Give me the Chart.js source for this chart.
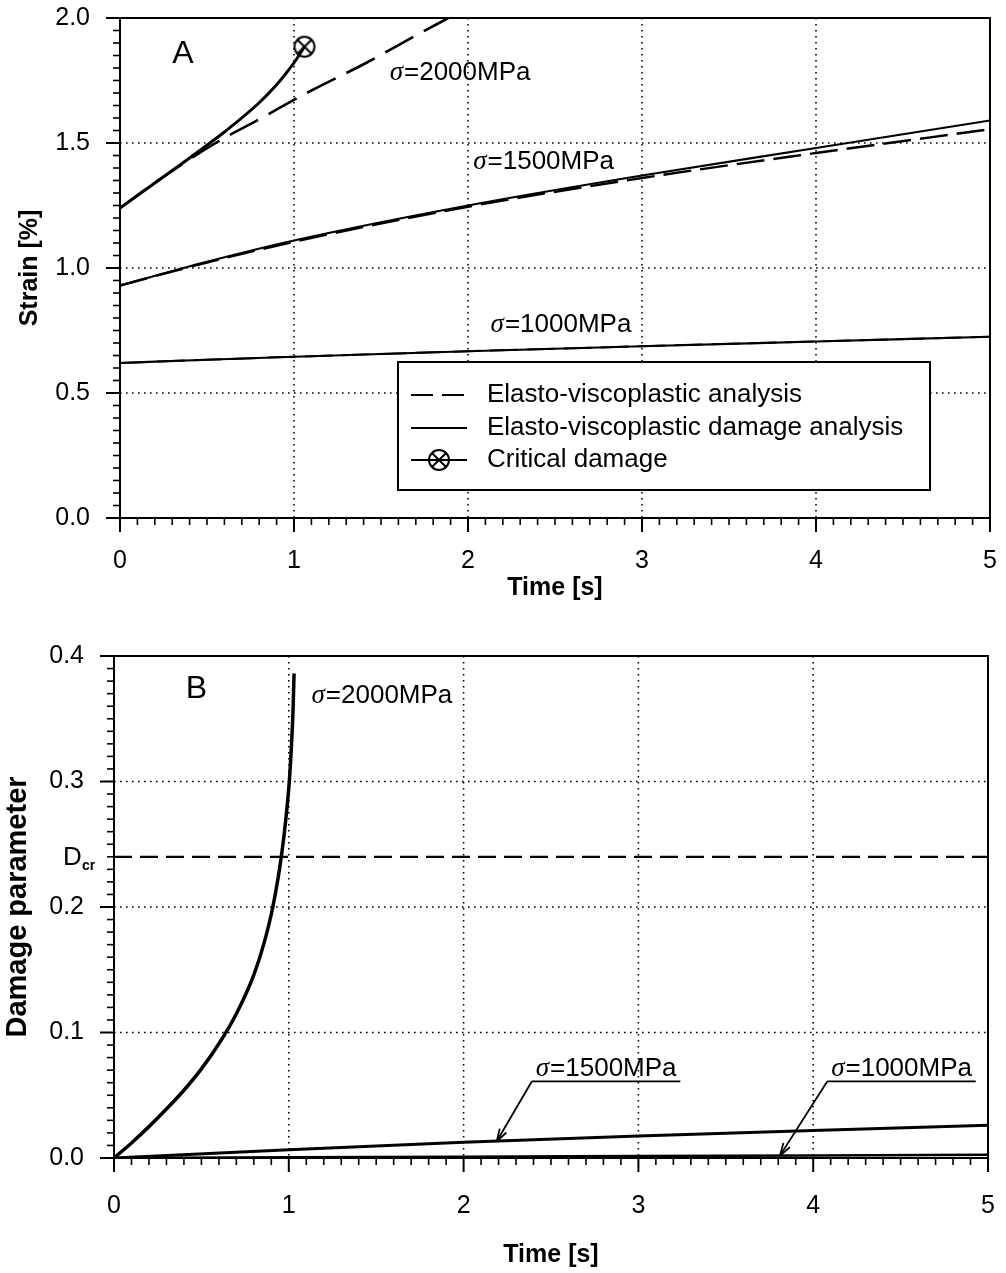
<!DOCTYPE html>
<html>
<head>
<meta charset="utf-8">
<script src="https://cdn.jsdelivr.net/npm/chart.js@4.4.1/dist/chart.umd.min.js"></script>
<style>
    html, body { margin: 0; padding: 0; background: #fff; overflow: hidden; }
    .panel { position: relative; width: 1006px; }
    #panelA { height: 640px; }
    #panelB { height: 633px; }
    canvas { display: block; }
</style>
</head>
<body>
<div class="panel" id="panelA"><canvas id="strainChart"></canvas></div>
<div class="panel" id="panelB"><canvas id="damageChart"></canvas></div>
<script>
// Panel A: strain vs time
const timeA2000Ev = [0, 0.25, 0.55, 0.8, 1.1, 1.4, 1.7, 1.9];
const strainA2000Ev = [1.24, 1.365, 1.50, 1.595, 1.71, 1.815, 1.93, 2.005];
const timeA2000Evd = [0, 0.2, 0.4, 0.6, 0.8, 0.9, 0.95, 1.0, 1.03, 1.06];
const strainA2000Evd = [1.24, 1.34, 1.44, 1.544, 1.661, 1.733, 1.775, 1.821, 1.852, 1.885];
const timeA = [0, 0.5, 1, 2, 3, 4, 5];
const strainA1500Ev = [0.93, 1.022, 1.105, 1.245, 1.36, 1.46, 1.555];
const strainA1500Evd = [0.93, 1.025, 1.11, 1.25, 1.37, 1.48, 1.59];
const strainA1000Ev = [0.62, 0.633, 0.645, 0.667, 0.687, 0.706, 0.725];
const strainA1000Evd = [0.62, 0.633, 0.645, 0.667, 0.687, 0.706, 0.725];
const criticalTime = [1.06];
const criticalStrain = [1.885];

// Panel B: damage parameter vs time
const timeB2000 = [0, 0.1, 0.2, 0.3, 0.4, 0.5, 0.6, 0.7, 0.8, 0.86, 0.91, 0.96, 1.0, 1.015, 1.025, 1.03];
const damageB2000 = [0, 0.012, 0.025, 0.039, 0.054, 0.071, 0.091, 0.115, 0.146, 0.172, 0.201, 0.243, 0.295, 0.328, 0.36, 0.386];
const timeB = [0, 1, 2, 3, 4, 5];
const damageB1500 = [0, 0.0065, 0.0125, 0.0175, 0.022, 0.026];
const damageB1000 = [0, 0.0005, 0.001, 0.0015, 0.002, 0.0025];
const criticalDamage = 0.24;

const legendLabels = ['Elasto-viscoplastic analysis', 'Elasto-viscoplastic damage analysis', 'Critical damage'];
const stressLabels = ['σ=2000MPa', 'σ=1500MPa', 'σ=1000MPa'];

const SANS = '"Liberation Sans", Arial, sans-serif';
const SERIF = '"Liberation Serif", "Times New Roman", serif';

const pts = (xs, ys) => xs.map((x, i) => ({ x: x, y: ys[i] }));

// circle with a cross, used for the critical damage marker
function makeCrossCircle() {
    const c = document.createElement('canvas');
    c.width = 26; c.height = 26;
    const g = c.getContext('2d');
    g.strokeStyle = '#000';
    g.lineWidth = 2;
    g.beginPath(); g.arc(13, 13, 10, 0, Math.PI * 2); g.stroke();
    const d = 10 * Math.SQRT1_2;
    g.beginPath();
    g.moveTo(13 - d, 13 - d); g.lineTo(13 + d, 13 + d);
    g.moveTo(13 + d, 13 - d); g.lineTo(13 - d, 13 + d);
    g.stroke();
    return c;
}
const crossCircle = makeCrossCircle();

function line(ctx, x1, y1, x2, y2) {
    ctx.beginPath(); ctx.moveTo(x1, y1); ctx.lineTo(x2, y2); ctx.stroke();
}

function drawStress(ctx, label, px, py) {
    ctx.textAlign = 'left';
    ctx.textBaseline = 'alphabetic';
    ctx.font = 'italic 27px ' + SERIF;
    ctx.fillText(label[0], px, py);
    const w = ctx.measureText(label[0]).width;
    ctx.font = '26px ' + SANS;
    ctx.fillText(label.slice(1), px + w + 1, py);
}

// dotted grid, box frame, major and minor ticks
const framePlugin = {
    id: 'frame',
    beforeDatasetsDraw(chart, args, opts) {
        const { ctx, chartArea: a, scales: { x, y } } = chart;
        ctx.save();
        ctx.strokeStyle = '#000';
        ctx.lineWidth = 1.6;
        ctx.setLineDash([1.6, 4.4]);
        x.ticks.forEach(t => {
            if (t.value > x.min && t.value < x.max) {
                const px = x.getPixelForValue(t.value);
                line(ctx, px, a.top, px, a.bottom);
            }
        });
        y.ticks.forEach(t => {
            if (t.value > y.min && t.value < y.max) {
                const py = y.getPixelForValue(t.value);
                line(ctx, a.left, py, a.right, py);
            }
        });
        ctx.restore();
    },
    afterDraw(chart, args, opts) {
        const { ctx, chartArea: a, scales: { x, y } } = chart;
        ctx.save();
        ctx.strokeStyle = '#000';
        ctx.lineWidth = 2;
        ctx.strokeRect(a.left, a.top, a.right - a.left, a.bottom - a.top);
        const nx = Math.round((x.max - x.min) / opts.xMinor);
        for (let i = 0; i <= nx; i++) {
            const px = x.getPixelForValue(x.min + i * opts.xMinor);
            const len = i % opts.perMajor === 0 ? 14 : 7;
            ctx.lineWidth = i % opts.perMajor === 0 ? 2 : 1.6;
            line(ctx, px, a.bottom, px, a.bottom + len);
        }
        const ny = Math.round((y.max - y.min) / opts.yMinor);
        for (let i = 0; i <= ny; i++) {
            const py = y.getPixelForValue(y.min + i * opts.yMinor);
            const len = i % opts.perMajor === 0 ? 14 : 7;
            ctx.lineWidth = i % opts.perMajor === 0 ? 2 : 1.6;
            line(ctx, a.left, py, a.left - len, py);
        }
        ctx.restore();
    }
};

// texts and legend of panel A
const notesAPlugin = {
    id: 'notesA',
    afterDraw(chart) {
        const { ctx, scales: { x, y } } = chart;
        ctx.save();
        ctx.fillStyle = '#000';
        ctx.strokeStyle = '#000';
        ctx.font = '32px ' + SANS;
        ctx.textBaseline = 'alphabetic';
        ctx.fillText('A', x.getPixelForValue(0.3), y.getPixelForValue(1.82));
        drawStress(ctx, stressLabels[0], x.getPixelForValue(1.55), y.getPixelForValue(1.752));
        drawStress(ctx, stressLabels[1], x.getPixelForValue(2.03), y.getPixelForValue(1.395));
        drawStress(ctx, stressLabels[2], x.getPixelForValue(2.13), y.getPixelForValue(0.745));

        // legend box
        const bx = 398, by = 362, bw = 532, bh = 128;
        ctx.fillStyle = '#fff';
        ctx.fillRect(bx, by, bw, bh);
        ctx.lineWidth = 2;
        ctx.strokeRect(bx, by, bw, bh);
        ctx.fillStyle = '#000';
        const rows = [395, 428, 460];
        ctx.lineWidth = 2;
        ctx.setLineDash([22, 9]);
        line(ctx, 411, rows[0], 466, rows[0]);
        ctx.setLineDash([]);
        line(ctx, 411, rows[1], 467, rows[1]);
        line(ctx, 411, rows[2], 467, rows[2]);
        ctx.drawImage(crossCircle, 439 - 13, rows[2] - 13);
        ctx.font = '26px ' + SANS;
        ctx.textBaseline = 'middle';
        legendLabels.forEach((t, i) => ctx.fillText(t, 487, rows[i]));
        ctx.restore();
    }
};

function arrowTo(ctx, x1, y1, x2, y2) {
    line(ctx, x1, y1, x2, y2);
    const ang = Math.atan2(y2 - y1, x2 - x1);
    const len = 13, spread = 0.3;
    line(ctx, x2, y2, x2 - len * Math.cos(ang - spread), y2 - len * Math.sin(ang - spread));
    line(ctx, x2, y2, x2 - len * Math.cos(ang + spread), y2 - len * Math.sin(ang + spread));
}

// texts and leader arrows of panel B
const notesBPlugin = {
    id: 'notesB',
    afterDraw(chart) {
        const { ctx, chartArea: a, scales: { x, y } } = chart;
        ctx.save();
        ctx.fillStyle = '#000';
        ctx.strokeStyle = '#000';
        ctx.font = '32px ' + SANS;
        ctx.textBaseline = 'alphabetic';
        ctx.fillText('B', x.getPixelForValue(0.41), y.getPixelForValue(0.3665));
        drawStress(ctx, stressLabels[0], x.getPixelForValue(1.13), y.getPixelForValue(0.3625));

        // D_cr label left of the axis
        const py = y.getPixelForValue(criticalDamage);
        ctx.font = '26px ' + SANS;
        ctx.fillText('D', 63, py + 8);
        ctx.font = 'bold 14px ' + SANS;
        ctx.fillText('cr', 82, py + 13);

        // leaders with arrows
        ctx.lineWidth = 1.8;
        const leaders = [
            { label: stressLabels[1], t0: 2.39, t1: 3.24, tip: 2.19, tipY: 0.0133 },
            { label: stressLabels[2], t0: 4.08, t1: 4.93, tip: 3.81, tipY: 0.0019 }
        ];
        leaders.forEach(l => {
            const ly = y.getPixelForValue(0.061);
            const lx0 = x.getPixelForValue(l.t0);
            line(ctx, lx0, ly, x.getPixelForValue(l.t1), ly);
            arrowTo(ctx, lx0, ly, x.getPixelForValue(l.tip), y.getPixelForValue(l.tipY));
            drawStress(ctx, l.label, lx0 + 4, ly - 5);
        });
        ctx.restore();
    }
};

const tickFont = { family: SANS, size: 25 };

function axes(yMax, yStep, yTitle, titleSize, yWidth, xHeight, yTitlePad, xTitlePad, xTickGap) {
    const titleFont = { family: SANS, size: titleSize, weight: 'bold' };
    return {
        x: {
            type: 'linear', min: 0, max: 5,
            ticks: { stepSize: 1, padding: 0, color: '#000', font: tickFont, maxRotation: 0 },
            grid: { display: false, drawTicks: true, tickLength: xTickGap },
            border: { display: false },
            title: { display: true, text: 'Time [s]', color: '#000', font: { family: SANS, size: 25, weight: 'bold' }, padding: { top: 0, bottom: xTitlePad } },
            afterFit: s => { s.height = xHeight; }
        },
        y: {
            type: 'linear', min: 0, max: yMax,
            ticks: { stepSize: yStep, padding: 0, color: '#000', font: tickFont, callback: v => v.toFixed(1) },
            grid: { display: false, drawTicks: true, tickLength: 30 },
            border: { display: false },
            title: { display: true, text: yTitle, color: '#000', font: titleFont, padding: { top: yTitlePad, bottom: 0 } },
            afterFit: s => { s.width = yWidth; }
        }
    };
}

Chart.defaults.font.family = SANS;
Chart.defaults.color = '#000';

new Chart(document.getElementById('strainChart'), {
    type: 'line',
    data: {
        datasets: [
            { data: pts(timeA2000Ev, strainA2000Ev), borderDash: [32, 12], borderWidth: 2.6 },
            { data: pts(timeA, strainA1500Ev), borderDash: [28, 9], borderWidth: 2.4 },
            { data: pts(timeA, strainA1000Ev), borderDash: [28, 9], borderWidth: 2 },
            { data: pts(timeA2000Evd, strainA2000Evd), borderWidth: 3 },
            { data: pts(timeA, strainA1500Evd), borderWidth: 2.2 },
            { data: pts(timeA, strainA1000Evd), borderWidth: 2.2 },
            { data: pts(criticalTime, criticalStrain), showLine: false, pointStyle: crossCircle, pointRadius: 11 }
        ]
    },
    options: {
        responsive: true,
        maintainAspectRatio: false,
        animation: false,
        devicePixelRatio: 1,
        layout: { padding: { top: 18, right: 16, bottom: 0, left: 0 } },
        elements: {
            line: { borderColor: '#000', cubicInterpolationMode: 'monotone', fill: false },
            point: { radius: 0, hoverRadius: 0, borderColor: '#000', backgroundColor: '#000' }
        },
        scales: axes(2, 0.5, 'Strain [%]', 25, 120, 122, 15, 37, 28),
        plugins: {
            legend: { display: false },
            tooltip: { enabled: false },
            frame: { xMinor: 0.1, yMinor: 0.05, perMajor: 10 }
        }
    },
    plugins: [framePlugin, notesAPlugin]
});

new Chart(document.getElementById('damageChart'), {
    type: 'line',
    data: {
        datasets: [
            { data: [{ x: 0, y: criticalDamage }, { x: 5, y: criticalDamage }], borderDash: [18, 8], borderWidth: 2.2 },
            { data: pts(timeB2000, damageB2000), borderWidth: 3.5 },
            { data: pts(timeB, damageB1500), borderWidth: 3 },
            { data: pts(timeB, damageB1000), borderWidth: 2.5 }
        ]
    },
    options: {
        responsive: true,
        maintainAspectRatio: false,
        animation: false,
        devicePixelRatio: 1,
        layout: { padding: { top: 16, right: 18, bottom: 0, left: 0 } },
        elements: {
            line: { borderColor: '#000', cubicInterpolationMode: 'monotone', fill: false },
            point: { radius: 0, hoverRadius: 0 }
        },
        scales: axes(0.4, 0.1, 'Damage parameter', 29, 114, 115, 1, 3, 33),
        plugins: {
            legend: { display: false },
            tooltip: { enabled: false },
            frame: { xMinor: 0.1, yMinor: 0.01, perMajor: 10 }
        }
    },
    plugins: [framePlugin, notesBPlugin]
});
</script>
</body>
</html>
